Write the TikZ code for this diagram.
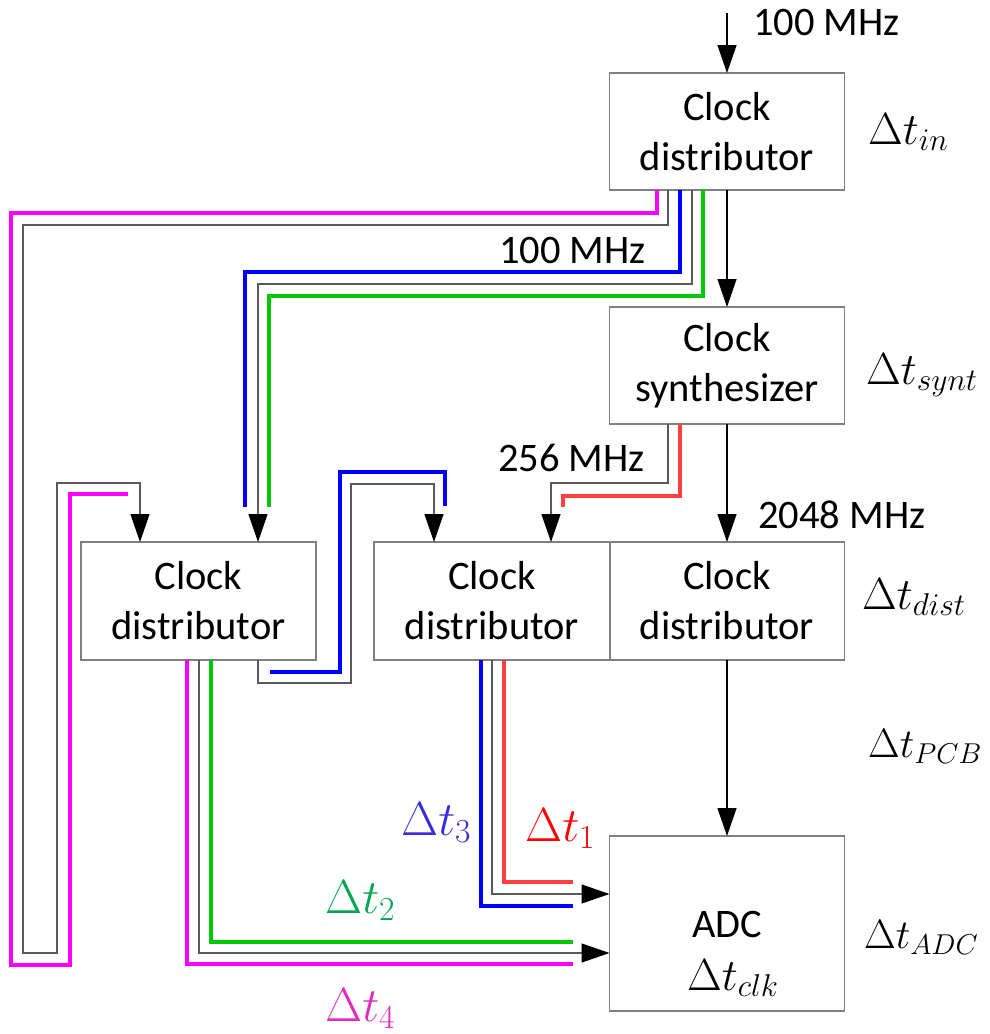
\RequirePackage{fix-cm}
\documentclass[tikz,border=0pt]{standalone}
\usepackage{fontspec}
\setmainfont{Carlito}
\usetikzlibrary{arrows.meta}
\definecolor{cmag}{RGB}{255,0,255}
\definecolor{cblu}{RGB}{0,0,255}
\definecolor{cgrn}{RGB}{0,200,0}
\definecolor{cred}{RGB}{255,64,64}
\definecolor{lred}{RGB}{255,0,0}
\definecolor{lblu}{RGB}{58,43,219}
\definecolor{lgrn}{RGB}{0,166,81}
\definecolor{lmag}{RGB}{224,42,192}
\definecolor{bordergray}{RGB}{128,128,128}
\definecolor{wiregray}{RGB}{90,90,90}
\tikzset{
  blk/.style={draw=bordergray, line width=1.5pt, minimum width=235pt, minimum height=117pt,
    inner sep=0pt, outer sep=0pt, align=center, font=\fontsize{40.5}{50}\selectfont},
  sig/.style={draw=black, line width=1.3pt, -{Triangle[length=28pt,width=19pt]}},
  wire/.style={draw=wiregray, line width=1.3pt},
  wirearr/.style={wire, -{Triangle[length=28pt,width=19pt,color=black]}},
  cw/.style={line width=4pt},
  freq/.style={font=\fontsize{40.5}{47}\selectfont, anchor=base west, inner sep=0pt},
  dlab/.style={font=\fontsize{45}{54}\selectfont, anchor=base west, inner sep=0pt},
  dlabs/.style={font=\fontsize{41}{50}\selectfont, anchor=base west, inner sep=0pt},
  clab/.style={font=\fontsize{48}{56}\selectfont, anchor=base west, inner sep=0pt},
}
\begin{document}
\begin{tikzpicture}[x=1pt,y=-1pt]
\useasboundingbox (0,0) rectangle (990,1034);
% boxes
\node[blk] (cd0) at (727,131.5) {Clock\\distributor};
\node[blk] (syn) at (727,365.5) {Clock\\synthesizer};
\node[blk, minimum height=118pt] (cd1) at (198.5,601) {Clock\\distributor};
\node[blk, minimum height=118pt, minimum width=236pt] (cd2) at (492,601) {Clock\\distributor};
\node[blk, minimum height=118pt] (cd3) at (727,601) {Clock\\distributor};
\node[blk, minimum height=175pt] (adc) at (727,923.5) {};
\node[font=\fontsize{40.5}{47}\selectfont, anchor=base, inner sep=0pt] (adctxt) at (727,937) {ADC};
\node[dlab] (tclk) at (687,990) {$\Delta t_{clk}$};
% free ends
\coordinate (in) at (727,13);
\coordinate (m1e) at (128,494);
\coordinate (b1e) at (245,507);
\coordinate (g1e) at (269,507);
\coordinate (r1e) at (563,507);
\coordinate (b2s) at (270,672);
\coordinate (b2e) at (445,506);
\coordinate (m2e) at (573,964);
\coordinate (g2e) at (573,942);
\coordinate (b3e) at (573,906);
\coordinate (r2e) at (573,882);
% main signal chain
\draw[sig] (in) -- (cd0.north);
\draw[sig] (cd0.south) -- (syn.north);
\draw[sig] (syn.south) -- (cd3.north);
\draw[sig] (cd3.south) -- (adc.north);
% from top distributor
\draw[cw,cmag] ([xshift=-70pt]cd0.south) -- (657,213) -- (11,213) -- (11,965) -- (70,965) -- (70,494) -- (m1e);
\draw[wirearr] ([xshift=-59pt]cd0.south) -- (668,225) -- (23,225) -- (23,953) -- (57,953) -- (57,483) -- (140,483) -- ([xshift=-58.5pt]cd1.north);
\draw[cw,cblu] ([xshift=-47pt]cd0.south) -- (680,272) -- (245,272) -- (b1e);
\draw[wirearr] ([xshift=-35pt]cd0.south) -- (692,284) -- (258,284) -- ([xshift=59.5pt]cd1.north);
\draw[cw,cgrn] ([xshift=-24pt]cd0.south) -- (703,296) -- (269,296) -- (g1e);
% from synthesizer
\draw[wirearr] ([xshift=-59pt]syn.south) -- (668,483) -- (551,483) -- ([xshift=59pt]cd2.north);
\draw[cw,cred] ([xshift=-47pt]syn.south) -- (680,496) -- (563,496) -- (r1e);
% cd1 -> cd2
\draw[wirearr] ([xshift=59.5pt]cd1.south) -- (258,683) -- (351,683) -- (351,484) -- (434,484) -- ([xshift=-58pt]cd2.north);
\draw[cw,cblu] (b2s) -- (340,672) -- (340,472) -- (445,472) -- (b2e);
% cd1 -> adc
\draw[cw,cmag] ([xshift=-11.5pt]cd1.south) -- (187,964) -- (m2e);
\draw[wirearr] ([xshift=0.5pt]cd1.south) -- (199,953) -- ([yshift=-29.5pt]adc.west);
\draw[cw,cgrn] ([xshift=12.5pt]cd1.south) -- (211,942) -- (g2e);
% cd2 -> adc
\draw[cw,cblu] ([xshift=-11pt]cd2.south) -- (481,906) -- (b3e);
\draw[wirearr] (cd2.south) -- (492,894) -- ([yshift=29.5pt]adc.west);
\draw[cw,cred] ([xshift=12pt]cd2.south) -- (504,882) -- (r2e);
% frequency labels
\node[freq] (f1) at (753,35) {100 MHz};
\node[freq] (f2) at (499,263) {100 MHz};
\node[freq] (f3) at (498,471) {256 MHz};
\node[freq] (f4) at (758,528) {2048 MHz};
% delay labels
\node[dlab] (tin) at (868,144) {$\Delta t_{in}$};
\node[dlab] (tsynt) at (866,384) {$\Delta t_{synt}$};
\node[dlab] (tdist) at (862,609) {$\Delta t_{dist}$};
\node[dlabs] (tpcb) at (868,757) {$\Delta t_{PCB}$};
\node[dlabs] (tadc) at (864,948) {$\Delta t_{ADC}$};
% path labels
\node[clab, text=lblu] (t3) at (401,835) {$\Delta t_3$};
\node[clab, text=lred] (t1) at (525,841) {$\Delta t_1$};
\node[clab, text=lgrn] (t2) at (325,913) {$\Delta t_2$};
\node[clab, text=lmag] (t4) at (325,1021) {$\Delta t_4$};
\end{tikzpicture}
\end{document}
